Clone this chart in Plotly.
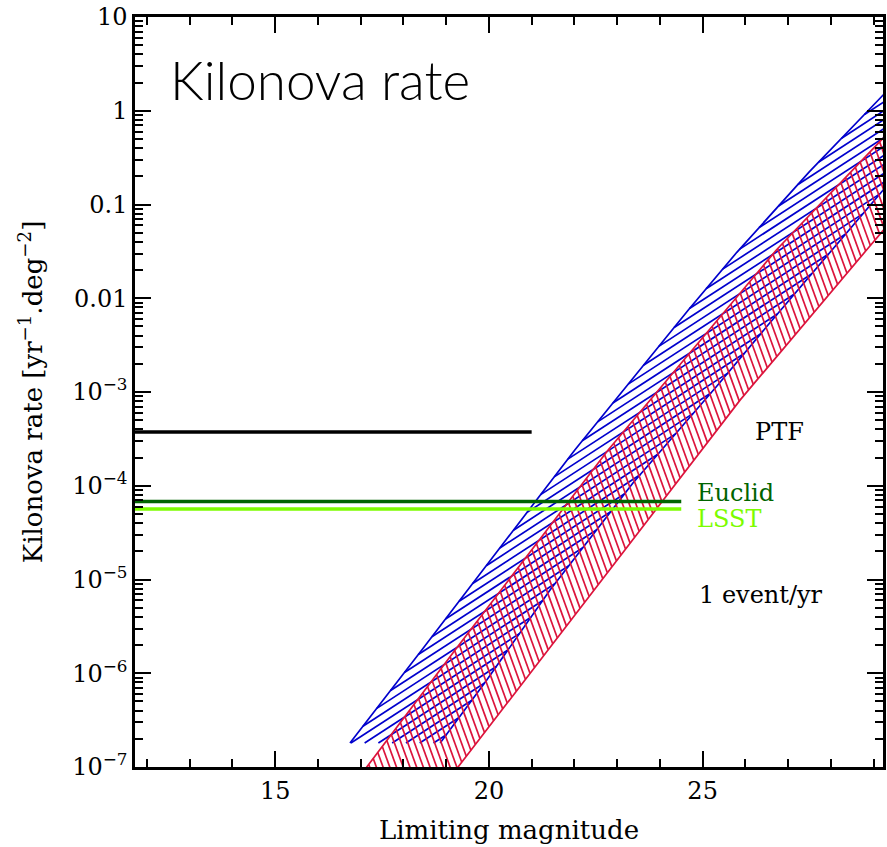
import numpy as np
import plotly.graph_objects as go

# ---------------- data ----------------
# x: limiting magnitude, y: kilonova rate [yr^-1 deg^-2]
blue_left_mag = [16.75, 18.43, 22.01, 24.67, 25.80, 27.50, 29.19, 29.60]
blue_left_rate = [1.80e-7, 1.77e-6, 2.41e-4, 7.55e-3, 3.09e-2, 0.224, 1.42, 2.24]
blue_right_mag = [18.86, 19.95, 21.43, 23.37, 25.33, 26.50, 29.19, 29.60]
blue_right_rate = [1.80e-7, 8.45e-7, 7.73e-6, 1.07e-4, 1.15e-3, 4.99e-3, 0.137, 0.225]

red_left_mag = [16.81, 19.21, 22.79, 26.73, 29.19, 29.60]
red_left_rate = [6.3e-8, 1.77e-6, 2.41e-4, 3.29e-2, 0.491, 0.771]
red_right_mag = [18.94, 21.38, 24.07, 25.88, 28.84, 29.60]
red_right_rate = [6.3e-8, 1.77e-6, 7.05e-5, 8.24e-4, 3.29e-2, 0.084]

survey_names = ["PTF", "Euclid", "LSST"]
survey_maglim = [21.0, 24.5, 24.5]
survey_rate = [3.74e-4, 6.8e-5, 5.65e-5]
survey_colors = ["black", "#006400", "#7CFC00"]

x_ticks = [15, 20, 25]
y_tickvals = [1e-7, 1e-6, 1e-5, 1e-4, 1e-3, 1e-2, 1e-1, 1, 10]
y_ticktext = ["10<sup>−7</sup>", "10<sup>−6</sup>", "10<sup>−5</sup>", "10<sup>−4</sup>",
              "10<sup>−3</sup>", "0.01", "0.1", "1", "10"]

# ---------------- layout constants ----------------
W, H = 887, 847
ML, MR, MT, MB = 135, 4, 17, 80
XR = [11.72, 29.22]
YR = [-7.0, 1.0]
SX = (W - ML - MR) / (XR[1] - XR[0])
SY = (H - MT - MB) / (YR[1] - YR[0])

BLUE = "#0000CD"
RED = "#DC143C"
SERIF = "DejaVu Serif"


def hatch(mag, rate, angle, spacing, phase=0.0):
    """Parallel hatch lines (screen angle in degrees) clipped to a polygon."""
    X = (np.asarray(mag, float) - XR[0]) * SX
    Y = (np.log10(np.asarray(rate, float)) - YR[0]) * SY
    P = np.column_stack([X, Y])
    P = np.vstack([P, P[:1]])
    th = np.radians(angle)
    u = np.array([np.cos(th), np.sin(th)])
    n = np.array([-np.sin(th), np.cos(th)])
    proj = P @ n
    start = np.floor(proj.min() / spacing) * spacing + phase
    xs, ys = [], []
    for c in np.arange(start, proj.max(), spacing):
        pts = []
        for i in range(len(P) - 1):
            d1, d2 = proj[i] - c, proj[i + 1] - c
            if d1 == 0:
                d1 = 1e-9
            if d2 == 0:
                d2 = 1e-9
            if d1 * d2 < 0:
                t = d1 / (d1 - d2)
                pts.append(P[i] + t * (P[i + 1] - P[i]))
        pts.sort(key=lambda p: float(p @ u))
        for a, b in zip(pts[0::2], pts[1::2]):
            for p in (a, b):
                xs.append(p[0] / SX + XR[0])
                ys.append(10 ** (p[1] / SY + YR[0]))
            xs.append(None)
            ys.append(None)
    return xs, ys


fig = go.Figure()

# blue band
bx, by = hatch(blue_left_mag + blue_right_mag[::-1], blue_left_rate + blue_right_rate[::-1], 33, 7.5)
fig.add_trace(go.Scatter(x=bx, y=by, mode="lines", line=dict(color=BLUE, width=1.7), hoverinfo="skip"))
for m, r in ((blue_left_mag, blue_left_rate), (blue_right_mag, blue_right_rate)):
    fig.add_trace(go.Scatter(x=m, y=r, mode="lines", line=dict(color=BLUE, width=1.7)))

# red band
rx, ry = hatch(red_left_mag + red_right_mag[::-1], red_left_rate + red_right_rate[::-1], 110, 6.3)
fig.add_trace(go.Scatter(x=rx, y=ry, mode="lines", line=dict(color=RED, width=1.7), hoverinfo="skip"))
for m, r in ((red_left_mag, red_left_rate), (red_right_mag, red_right_rate)):
    fig.add_trace(go.Scatter(x=m, y=r, mode="lines", line=dict(color=RED, width=1.7)))

# survey limits
for name, ml, rt, col in zip(survey_names, survey_maglim, survey_rate, survey_colors):
    fig.add_trace(go.Scatter(x=[XR[0], ml], y=[rt, rt], mode="lines", name=name,
                             line=dict(color=col, width=3.5)))

# invisible trace carrying the minor-tick y axis
fig.add_trace(go.Scatter(x=[XR[0]], y=[1.0], yaxis="y2", mode="markers",
                         marker=dict(opacity=0), hoverinfo="skip"))

annots = [
    dict(text="PTF", x=26.81, y=np.log10(survey_rate[0]), xanchor="center", yanchor="middle",
         font=dict(color="black")),
    dict(text="Euclid", x=24.82, y=np.log10(survey_rate[1]), yshift=8, xanchor="left", yanchor="middle",
         font=dict(color=survey_colors[1])),
    dict(text="LSST", x=24.82, y=np.log10(survey_rate[2]), yshift=-10, xanchor="left", yanchor="middle",
         font=dict(color=survey_colors[2])),
    dict(text="1 event/yr", x=24.87, y=-5.17, xanchor="left", yanchor="middle",
         font=dict(color="black")),
]
for a in annots:
    a["font"].update(family=SERIF, size=24)
    a.update(xref="x", yref="y", showarrow=False)
    fig.add_annotation(**a)

fig.add_annotation(text="Kilonova rate", xref="paper", yref="paper",
                   x=(168 - ML) / (W - ML - MR), y=(H - MB - 80) / (H - MT - MB),
                   xanchor="left", yanchor="middle", showarrow=False,
                   font=dict(family="Lato", size=53, color="black", weight=300))

axis_common = dict(showline=True, linecolor="black", linewidth=2.5, mirror="ticks",
                   ticks="inside", ticklen=16, tickwidth=2, tickcolor="black",
                   showgrid=False, zeroline=False, automargin=False,
                   tickfont=dict(family=SERIF, size=24, color="black"))

fig.update_xaxes(range=XR, tickvals=x_ticks,
                 minor=dict(ticks="inside", ticklen=8, tickwidth=2, tickcolor="black",
                            dtick=1, tick0=0, showgrid=False),
                 title=dict(text="Limiting magnitude", font=dict(family=SERIF, size=26, color="black"),
                            standoff=18),
                 **axis_common)

fig.update_yaxes(type="log", range=YR, tickvals=y_tickvals, ticktext=y_ticktext,
                 title=dict(text="Kilonova rate [yr<sup>−1</sup>.deg<sup>−2</sup>]",
                            font=dict(family=SERIF, size=26, color="black"), standoff=23),
                 **axis_common)

y_minor = [k * 10.0 ** e for e in range(-7, 1) for k in range(2, 10)]
fig.update_layout(
    yaxis2=dict(type="log", range=YR, overlaying="y", side="left", tickmode="array",
                tickvals=y_minor, showticklabels=False, ticks="inside", ticklen=8,
                tickwidth=2, tickcolor="black", showline=True, linecolor="black",
                linewidth=2.5, mirror="ticks", showgrid=False, zeroline=False,
                automargin=False),
    width=W, height=H, margin=dict(l=ML, r=MR, t=MT, b=MB),
    template="none", plot_bgcolor="white", paper_bgcolor="white",
    showlegend=False)

fig.write_html("out.html")
